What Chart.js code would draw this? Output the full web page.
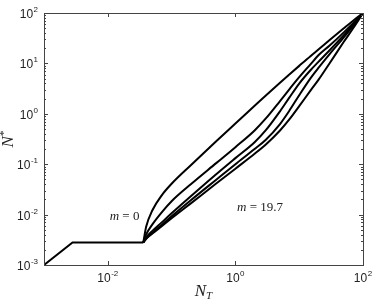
<!DOCTYPE html>
<html>
<head>
<meta charset="utf-8">
<script src="https://cdn.jsdelivr.net/npm/chart.js@4.4.1/dist/chart.umd.min.js"></script>
<style>
  html, body { margin: 0; padding: 0; background: #fff; }
  #wrap { width: 374px; height: 299px; }
</style>
</head>
<body>
<div id="wrap"><canvas id="chart"></canvas></div>
<script>
// shared start of every curve
const baseX = [0.001, 0.0028, 0.036];
const baseY = [0.001, 0.0028, 0.0028];

// the fan of curves
const fanX  = [0.036, 0.04, 0.05, 0.07, 0.1, 0.2, 0.5, 1, 2, 3, 5, 7, 10, 15, 20, 30, 50, 70, 100];
const curve1 = [0.0028, 0.0058, 0.0122, 0.0241, 0.0409, 0.0955, 0.286, 0.643, 1.44, 2.31, 4.14, 6.03, 8.93, 13.9, 18.8, 29.0, 49.6, 70.3, 100];
const curve2 = [0.0028, 0.00405, 0.0064, 0.0111, 0.0184, 0.040, 0.105, 0.218, 0.468, 0.809, 1.79, 3.06, 5.32, 9.57, 14.5, 22.6, 41.3, 63.0, 100];
const curve3 = [0.0028, 0.00352, 0.00475, 0.00701, 0.0106, 0.0231, 0.0632, 0.132, 0.273, 0.472, 1.12, 2.09, 3.98, 7.31, 10.7, 18.2, 36.3, 58.5, 100];
const curve4 = [0.0028, 0.00336, 0.00434, 0.00625, 0.00922, 0.0192, 0.0492, 0.100, 0.200, 0.306, 0.627, 1.15, 2.34, 5.06, 8.15, 15.3, 32.9, 55.3, 100];
const curve5 = [0.0028, 0.00332, 0.0042, 0.00589, 0.00843, 0.0167, 0.0413, 0.0815, 0.161, 0.246, 0.467, 0.773, 1.42, 2.88, 4.70, 10.1, 26.8, 49.9, 100];

const xLabelTicks = [-2, 0, 2];            // exponents shown on x
const yLabelTicks = [-3, -2, -1, 0, 1, 2]; // exponents shown on y
const notes = [
  { text: ['m', ' = 0'],    x: 0.0183, y: 0.0092 },
  { text: ['m', ' = 19.7'], x: 2.43,   y: 0.0139 }
];

function pts(xs, ys) { return xs.map((v, i) => ({ x: v, y: ys[i] })); }

function line(data, smooth) {
  return {
    data: data,
    borderColor: '#000',
    borderWidth: 2,
    pointRadius: 0,
    fill: false,
    tension: 0,
    cubicInterpolationMode: smooth ? 'monotone' : 'default'
  };
}

function drawPow(ctx, exp, x, y, align) {
  ctx.font = '12px "Liberation Sans", Arial, sans-serif';
  let wb = ctx.measureText('10').width;
  ctx.font = '8px "Liberation Sans", Arial, sans-serif';
  let es = String(exp);
  let we = ctx.measureText(es).width;
  let w = wb + we + 0.5;
  let left = align == 'right' ? x - w : x - w / 2;
  ctx.fillStyle = '#222';
  ctx.textBaseline = 'alphabetic';
  ctx.textAlign = 'left';
  ctx.font = '12px "Liberation Sans", Arial, sans-serif';
  ctx.fillText('10', left, y);
  ctx.font = '8px "Liberation Sans", Arial, sans-serif';
  ctx.fillText(es, left + wb + 0.5, y - 6);
}

const frame = {
  id: 'frame',
  afterDatasetsDraw(chart) {
    const ctx = chart.ctx, a = chart.chartArea;
    const xs = chart.scales.x, ys = chart.scales.y;
    ctx.save();
    ctx.strokeStyle = '#444';
    ctx.lineWidth = 1;
    ctx.strokeRect(Math.round(a.left) + 0.5, Math.round(a.top) + 0.5,
                   Math.round(a.right - a.left), Math.round(a.bottom - a.top));

    // y ticks: majors and minors on both sides
    ctx.beginPath();
    for (let d = -3; d <= 1; d++) {
      for (let k = 1; k <= 9; k++) {
        let py = Math.round(ys.getPixelForValue(k * Math.pow(10, d))) + 0.5;
        let len = k == 1 ? 4 : 2;
        ctx.moveTo(a.left, py); ctx.lineTo(a.left + len, py);
        ctx.moveTo(a.right, py); ctx.lineTo(a.right - len, py);
      }
    }
    // x ticks at labelled decades, top and bottom
    xLabelTicks.forEach(e => {
      let px = Math.round(xs.getPixelForValue(Math.pow(10, e))) + 0.5;
      ctx.moveTo(px, a.bottom); ctx.lineTo(px, a.bottom - 4);
      ctx.moveTo(px, a.top); ctx.lineTo(px, a.top + 4);
    });
    ctx.stroke();

    // tick labels
    yLabelTicks.forEach(e => {
      let py = ys.getPixelForValue(Math.pow(10, e));
      drawPow(ctx, e < 0 ? '-' + (-e) : e, a.left - 6, py + 5, 'right');
    });
    xLabelTicks.forEach(e => {
      let px = xs.getPixelForValue(Math.pow(10, e));
      drawPow(ctx, e < 0 ? '-' + (-e) : e, px, a.bottom + 17, 'center');
    });

    // axis titles
    ctx.fillStyle = '#222';
    ctx.textAlign = 'left';
    ctx.font = 'italic 17px "Liberation Serif", "Times New Roman", serif';
    let cx = (a.left + a.right) / 2;
    let wN = ctx.measureText('N').width;
    ctx.font = 'italic 11px "Liberation Serif", serif';
    let wT = ctx.measureText('T').width;
    let lx = cx - (wN + wT) / 2;
    ctx.font = 'italic 17px "Liberation Serif", "Times New Roman", serif';
    ctx.fillText('N', lx, 296);
    ctx.font = 'italic 11px "Liberation Serif", serif';
    ctx.fillText('T', lx + wN, 299);

    ctx.save();
    ctx.translate(13, (a.top + a.bottom) / 2);
    ctx.rotate(-Math.PI / 2);
    ctx.font = 'italic 17px "Liberation Serif", "Times New Roman", serif';
    let wN2 = ctx.measureText('N').width;
    ctx.font = '11px "Liberation Serif", serif';
    let wS = ctx.measureText('*').width;
    let sx = -(wN2 + wS) / 2;
    ctx.font = 'italic 17px "Liberation Serif", "Times New Roman", serif';
    ctx.fillText('N', sx, 0);
    ctx.font = '11px "Liberation Serif", serif';
    ctx.fillText('*', sx + wN2, -6);
    ctx.restore();

    // in-plot notes
    notes.forEach(n => {
      let px = xs.getPixelForValue(n.x), py = ys.getPixelForValue(n.y);
      ctx.font = 'italic 13px "Liberation Serif", serif';
      let w1 = ctx.measureText(n.text[0]).width;
      ctx.font = '13px "Liberation Serif", serif';
      let w2 = ctx.measureText(n.text[1]).width;
      let x0 = px - (w1 + w2) / 2;
      ctx.textBaseline = 'middle';
      ctx.font = 'italic 13px "Liberation Serif", serif';
      ctx.fillText(n.text[0], x0, py);
      ctx.font = '13px "Liberation Serif", serif';
      ctx.fillText(n.text[1], x0 + w1, py);
    });
    ctx.restore();
  }
};

new Chart(document.getElementById('chart').getContext('2d'), {
  type: 'line',
  data: {
    datasets: [
      line(pts(baseX, baseY), false),
      line(pts(fanX, curve1), true),
      line(pts(fanX, curve2), true),
      line(pts(fanX, curve3), true),
      line(pts(fanX, curve4), true),
      line(pts(fanX, curve5), true)
    ]
  },
  options: {
    responsive: true,
    maintainAspectRatio: false,
    animation: false,
    layout: { padding: { left: 44, right: 11, top: 13, bottom: 34 } },
    plugins: { legend: { display: false }, tooltip: { enabled: false } },
    scales: {
      x: {
        type: 'logarithmic', min: 0.001, max: 100,
        grid: { display: false, drawTicks: false },
        border: { display: false },
        ticks: { display: false }
      },
      y: {
        type: 'logarithmic', min: 0.001, max: 100,
        grid: { display: false, drawTicks: false },
        border: { display: false },
        ticks: { display: false }
      }
    }
  },
  plugins: [frame]
});
</script>
</body>
</html>
